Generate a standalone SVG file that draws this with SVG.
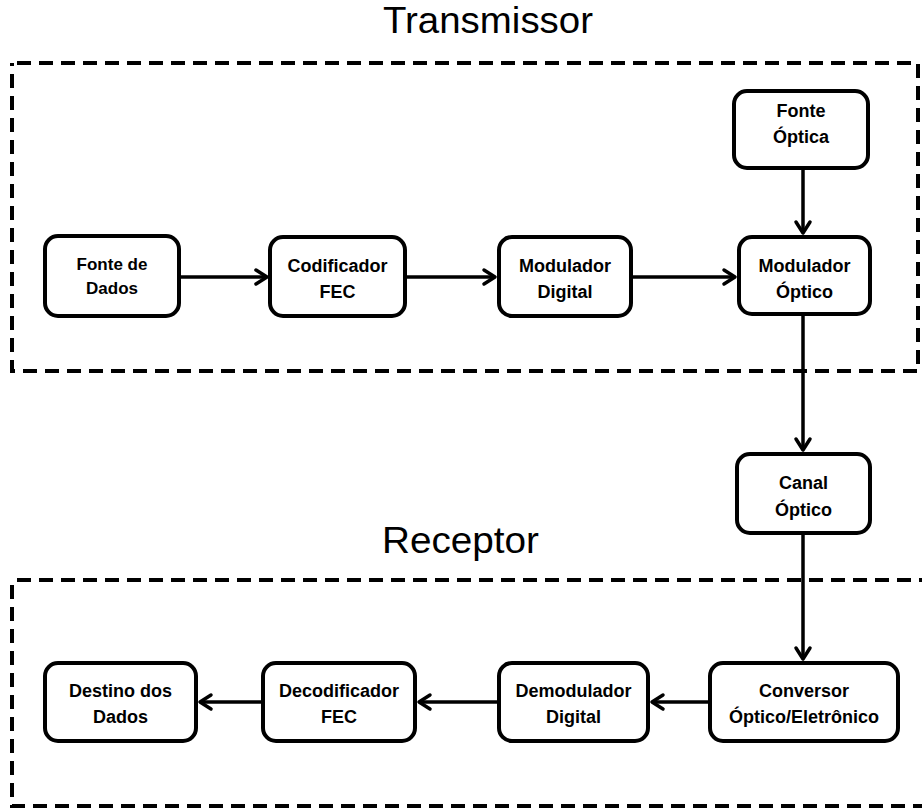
<svg xmlns="http://www.w3.org/2000/svg" width="922" height="808" viewBox="0 0 922 808">
  <defs>
    <style>
      .group { fill: none; stroke: #000; stroke-width: 4; stroke-dasharray: 14 8; }
      .title { font-family: "Liberation Sans", Arial, sans-serif; font-size: 36px; fill: #000; }
      .box { fill: #fff; stroke: #000; stroke-width: 4; }
      .label { font-family: "Liberation Sans", Arial, sans-serif; font-size: 18px; font-weight: bold; fill: #000; text-anchor: middle; }
      .wire { fill: none; stroke: #000; stroke-width: 3.5; marker-end: url(#arrow); }
    </style>
    <marker id="arrow" markerUnits="userSpaceOnUse" markerWidth="20" markerHeight="20" viewBox="-14 -10 16 20" refX="0" refY="0" orient="auto">
      <path d="M-11,-7 L0,0 L-11,7" fill="none" stroke="#000" stroke-width="3.5" stroke-linecap="round" stroke-linejoin="round"/>
    </marker>
  </defs>

  <rect width="922" height="808" fill="#fff"/>

  <!-- Transmitter / receiver enclosures -->
  <g id="transmissor">
    <rect class="group" x="12" y="63" width="906" height="308" stroke-dashoffset="-5"/>
    <text class="title" x="383" y="33" textLength="210" lengthAdjust="spacingAndGlyphs">Transmissor</text>
  </g>
  <g id="receptor">
    <rect class="group" x="12" y="580" width="930" height="226" stroke-dashoffset="-5"/>
    <text class="title" x="382" y="553" textLength="157" lengthAdjust="spacingAndGlyphs">Receptor</text>
  </g>

  <!-- Connectors -->
  <g id="connectors">
    <path class="wire" d="M181 277 H267"/>
    <path class="wire" d="M407 277 H495"/>
    <path class="wire" d="M633 277 H735"/>
    <path class="wire" d="M803 170 V233"/>
    <path class="wire" d="M803 316 V450"/>
    <path class="wire" d="M803 535 V659"/>
    <path class="wire" d="M708 702 H652"/>
    <path class="wire" d="M497 702 H419"/>
    <path class="wire" d="M261 702 H200"/>
  </g>

  <!-- Transmitter chain -->
  <g id="fonte-dados">
    <rect class="box" x="45" y="236" width="134" height="80" rx="13"/>
    <text class="label" x="112" y="270" style="font-size:17px">Fonte de</text>
    <text class="label" x="112" y="294" style="font-size:17px">Dados</text>
  </g>
  <g id="codificador-fec">
    <rect class="box" x="270" y="237" width="135" height="79" rx="13"/>
    <text class="label" x="337.5" y="272">Codificador</text>
    <text class="label" x="337.5" y="298">FEC</text>
  </g>
  <g id="modulador-digital">
    <rect class="box" x="499" y="237" width="132" height="79" rx="13"/>
    <text class="label" x="565" y="272">Modulador</text>
    <text class="label" x="565" y="298">Digital</text>
  </g>
  <g id="fonte-optica">
    <rect class="box" x="734" y="91" width="134" height="77" rx="13"/>
    <text class="label" x="801" y="117">Fonte</text>
    <text class="label" x="801" y="143">Óptica</text>
  </g>
  <g id="modulador-optico">
    <rect class="box" x="739" y="237" width="131" height="77" rx="13"/>
    <text class="label" x="804.5" y="272">Modulador</text>
    <text class="label" x="804.5" y="298">Óptico</text>
  </g>

  <!-- Channel -->
  <g id="canal-optico">
    <rect class="box" x="737" y="454" width="133" height="79" rx="13"/>
    <text class="label" x="803.5" y="489">Canal</text>
    <text class="label" x="803.5" y="516">Óptico</text>
  </g>

  <!-- Receiver chain -->
  <g id="conversor">
    <rect class="box" x="710" y="663" width="188" height="78" rx="13"/>
    <text class="label" x="804" y="697">Conversor</text>
    <text class="label" x="804" y="723">Óptico/Eletrônico</text>
  </g>
  <g id="demodulador-digital">
    <rect class="box" x="499" y="663" width="149" height="78" rx="13"/>
    <text class="label" x="573.5" y="697">Demodulador</text>
    <text class="label" x="573.5" y="723">Digital</text>
  </g>
  <g id="decodificador-fec">
    <rect class="box" x="263" y="663" width="152" height="78" rx="13"/>
    <text class="label" x="339" y="697">Decodificador</text>
    <text class="label" x="339" y="723">FEC</text>
  </g>
  <g id="destino-dados">
    <rect class="box" x="45" y="663" width="151" height="78" rx="13"/>
    <text class="label" x="120.5" y="697">Destino dos</text>
    <text class="label" x="120.5" y="723">Dados</text>
  </g>
</svg>
